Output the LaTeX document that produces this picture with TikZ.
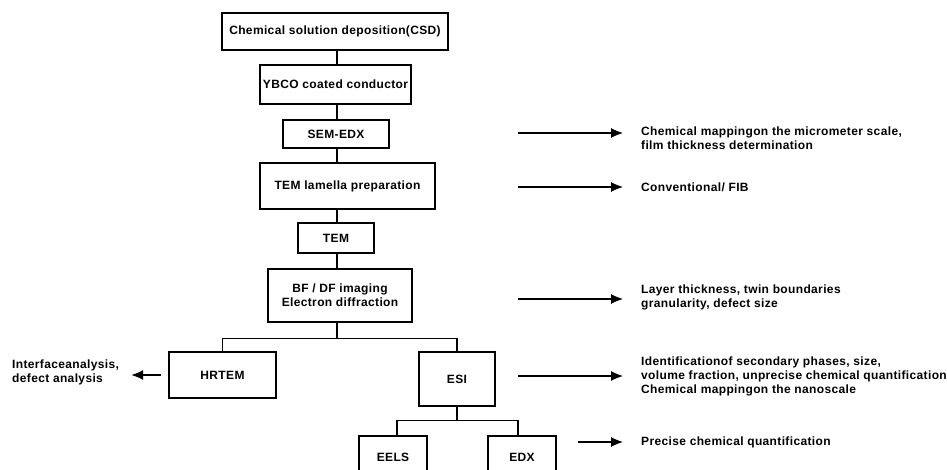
\documentclass[tikz,border=0pt]{standalone}
\usepackage{fontspec}
\setmainfont{Liberation Sans}[LetterSpace=3]
\usetikzlibrary{arrows.meta}
\usetikzlibrary{positioning}

\begin{document}
\begin{tikzpicture}
	[x=1pt,y=-1pt,font=\bfseries\fontsize{12}{14}\selectfont,
	box/.style={draw,line width=1.1pt,inner sep=0pt,align=center},
	note/.style={align=left,inner sep=0pt},
	link/.style={line width=1.1pt},
	arr/.style={line width=1.1pt,-{Latex[length=12pt,width=10pt]}}]
	\useasboundingbox (0,0) rectangle (947,470);
	\clip (0,0) rectangle (947,470);
	\node[box,minimum width=226,minimum height=37] (csd) at (335,31.5) {Chemical solution deposition(CSD)};
	\node[box,minimum width=151,minimum height=39] (ybco) at (335.5,84.5) {YBCO coated conductor};
	\node[box,minimum width=106,minimum height=28] (sem) at (336,134) {SEM-EDX};
	\node[box,minimum width=175,minimum height=46] (lam) at (347.5,186) {TEM lamella preparation};
	\node[box,minimum width=76,minimum height=30] (tem) at (336,238) {TEM};
	\node[box,minimum width=144,minimum height=53] (bfdf) at (340,295.5) {BF / DF imaging\\Electron diffraction};
	\node[box,minimum width=107,minimum height=46] (hrtem) at (222.5,375) {HRTEM};
	\node[box,minimum width=76,minimum height=54] (esi) at (457,379) {ESI};
	\node[box,minimum width=68,minimum height=42] (eels) at (393,457) {EELS};
	\node[box,minimum width=68,minimum height=42] (edx) at (522,457) {EDX};
	
	\node[note,anchor=west] (t1) at (641,138.5) {Chemical mappingon the micrometer scale,\\film thickness determination};
	\node[note,anchor=west] (t2) at (641,187) {Conventional/ FIB};
	\node[note,anchor=west] (t3) at (641,297.5) {Layer thickness, twin boundaries\\granularity, defect size};
	\node[note,anchor=west] (t4) at (641,376) {Identificationof secondary phases, size,\\volume fraction, unprecise chemical quantification\\Chemical mappingon the nanoscale};
	\node[note,anchor=west] (t5) at (641,442) {Precise chemical quantification};
	\node[note,anchor=west] (tl) at (12,372) {Interfaceanalysis,\\defect analysis};
	
	\coordinate (spine) at (337,0);
	\foreach \from/\to in {csd/ybco,ybco/sem,sem/lam,lam/tem,tem/bfdf}
	\draw[link] (\from.south -| spine) -- (\to.north -| spine);
	\draw[link] (bfdf.south -| spine) -- ++(0,16) coordinate (fork1);
	\draw[link] (hrtem.north) |- (fork1) -| (esi.north);
	\draw[link] (esi.south) -- ++(0,14) coordinate (fork2);
	\draw[link] ([xshift=4pt]eels.north) |- (fork2) -| ([xshift=-4pt]edx.north);
	
	\foreach \n/\x/\y in {1/518/133,2/518/187,3/518/299,4/518/376,5/578/442}
	\coordinate (s\n) at (\x,\y);
	\foreach \n in {1,...,5}
	\draw[arr,shorten >=18pt] (s\n) -- (s\n -| t\n.west);
	\draw[arr,shorten <=7pt,shorten >=12pt] (hrtem.west) -- (hrtem.west -| tl.east);
\end{tikzpicture}
\end{document}
